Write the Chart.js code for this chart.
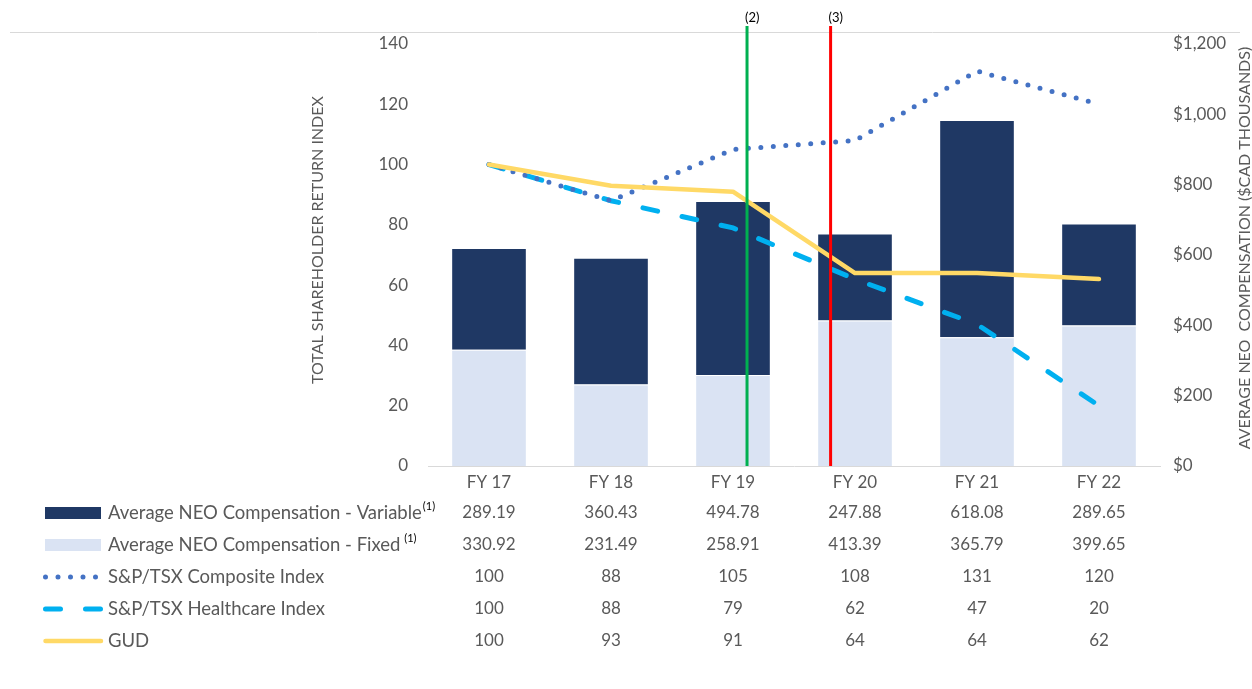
<!DOCTYPE html>
<html>
<head>
<meta charset="utf-8">
<script src="https://cdn.jsdelivr.net/npm/chart.js@4.4.1/dist/chart.umd.min.js"></script>
<style>
  html, body { margin: 0; padding: 0; background: #fff; }
  #wrap { width: 1252px; height: 689px; position: relative; }
</style>
</head>
<body>
<div id="wrap"><canvas id="tsrChart"></canvas></div>
<script>
const FONT = "Lato, 'Open Sans', sans-serif";
const GREY = '#595959';

// ---- data ----
const years = ['FY 17', 'FY 18', 'FY 19', 'FY 20', 'FY 21', 'FY 22'];
const compVariable = [289.19, 360.43, 494.78, 247.88, 618.08, 289.65];
const compFixed = [330.92, 231.49, 258.91, 413.39, 365.79, 399.65];
const tsxComposite = [100, 88, 105, 108, 131, 120];
const tsxHealthcare = [100, 88, 79, 62, 47, 20];
const gud = [100, 93, 91, 64, 64, 62];

const seriesNames = [
    'Average NEO Compensation - Variable',
    'Average NEO Compensation - Fixed',
    'S&P/TSX Composite Index',
    'S&P/TSX Healthcare Index',
    'GUD'
];
const seriesNotes = ['(1)', ' (1)', '', '', ''];

// left axis (index) and right axis ($CAD thousands)
const indexMin = 0, indexMax = 140, indexStep = 20;
const compMin = 0, compMax = 1200, compStep = 200;
const leftTitle = 'TOTAL SHAREHOLDER RETURN INDEX';
const rightTitle = 'AVERAGE NEO  COMPENSATION ($CAD THOUSANDS)';

// event markers, in category units (between FY 19 and FY 20)
const markerAt = [2.115, 2.8];
const markerText = ['(2)', '(3)'];
const markerColor = ['#00B050', '#FF0000'];

/* ---- top rule line ---- */
const frameLine = {
    id: 'frameLine',
    beforeDraw(chart) {
        const { ctx, chartArea } = chart;
        ctx.save();
        ctx.strokeStyle = '#D9D9D9';
        ctx.lineWidth = 1;
        ctx.beginPath();
        ctx.moveTo(10, chartArea.top - 11.5);
        ctx.lineTo(chart.width - 12, chartArea.top - 11.5);
        ctx.stroke();
        ctx.restore();
    }
};

/* ---- both axis titles read bottom-to-top ---- */
const axisTitles = {
    id: 'axisTitles',
    afterDraw(chart) {
        const { ctx, chartArea, scales: { y, y1 } } = chart;
        const mid = (chartArea.top + chartArea.bottom) / 2;
        ctx.save();
        ctx.fillStyle = GREY;
        ctx.font = '16px ' + FONT;
        ctx.textAlign = 'center';
        ctx.textBaseline = 'middle';
        [[y.left + 18, mid - 15, leftTitle], [y1.right - 7, mid - 7, rightTitle]].forEach(([tx, ty, txt]) => {
            ctx.save();
            ctx.translate(tx, ty);
            ctx.rotate(-Math.PI / 2);
            ctx.fillText(txt, 0, 0);
            ctx.restore();
        });
        ctx.restore();
    }
};

/* ---- vertical event markers ---- */
const eventMarkers = {
    id: 'eventMarkers',
    afterDatasetsDraw(chart) {
        const { ctx, chartArea, scales: { x } } = chart;
        const step = x.getPixelForValue(1) - x.getPixelForValue(0);
        ctx.save();
        markerAt.forEach((pos, i) => {
            const base = Math.floor(pos);
            const px = x.getPixelForValue(base) + (pos - base) * step;
            ctx.strokeStyle = markerColor[i];
            ctx.lineWidth = 3;
            ctx.beginPath();
            ctx.moveTo(px, chartArea.top - 18);
            ctx.lineTo(px, chartArea.bottom);
            ctx.stroke();
            ctx.fillStyle = '#000';
            ctx.font = '13px ' + FONT;
            ctx.textAlign = 'left';
            ctx.textBaseline = 'middle';
            ctx.fillText(markerText[i], px - 2, chartArea.top - 26);
        });
        ctx.restore();
    }
};

/* ---- data table under the x axis ---- */
function drawKey(ctx, ds, y) {
    ctx.save();
    if (ds.type === 'bar') {
        ctx.fillStyle = ds.backgroundColor;
        ctx.fillRect(45, y - 6, 56, 12);
    } else {
        ctx.strokeStyle = ds.borderColor;
        ctx.lineWidth = ds.borderWidth;
        ctx.lineCap = ds.borderCapStyle || 'round';
        ctx.setLineDash(ds.borderDash || []);
        ctx.beginPath();
        ctx.moveTo(45.5, y);
        ctx.lineTo(101, y);
        ctx.stroke();
    }
    ctx.restore();
}

const dataTable = {
    id: 'dataTable',
    afterDraw(chart) {
        const { ctx, chartArea, scales: { x } } = chart;
        ctx.save();
        chart.data.datasets.forEach((ds, i) => {
            const y = chartArea.bottom + 47 + i * 32;
            drawKey(ctx, ds, y);
            ctx.font = '18.5px ' + FONT;
            ctx.fillStyle = GREY;
            ctx.textBaseline = 'middle';
            ctx.textAlign = 'left';
            ctx.fillText(ds.label, 108, y);
            if (seriesNotes[i]) {
                const w = ctx.measureText(ds.label).width;
                ctx.font = '11px ' + FONT;
                ctx.fillStyle = '#000';
                ctx.fillText(seriesNotes[i], 108 + w + 1, y - 7);
            }
            ctx.font = '17px ' + FONT;
            ctx.fillStyle = GREY;
            ctx.textAlign = 'center';
            ds.data.forEach((v, j) => {
                const txt = ds.type === 'bar' ? v.toFixed(2) : String(v);
                ctx.fillText(txt, x.getPixelForValue(j), y);
            });
        });
        ctx.restore();
    }
};

new Chart(document.getElementById('tsrChart'), {
    data: {
        labels: years,
        datasets: [
            {
                type: 'bar',
                label: seriesNames[0],
                data: compVariable,
                yAxisID: 'y1',
                backgroundColor: '#1F3864',
                borderColor: 'rgba(255,255,255,0.7)',
                borderWidth: 1,
                order: 5,
            },
            {
                type: 'bar',
                label: seriesNames[1],
                data: compFixed,
                yAxisID: 'y1',
                backgroundColor: '#DAE3F3',
                borderColor: 'rgba(255,255,255,0.7)',
                borderWidth: 1,
                order: 4,
            },
            {
                type: 'line',
                label: seriesNames[2],
                data: tsxComposite,
                yAxisID: 'y',
                borderColor: '#4472C4',
                borderWidth: 5,
                borderDash: [0, 12.5],
                borderCapStyle: 'round',
                pointRadius: 0,
                tension: 0,
                order: 2,
            },
            {
                type: 'line',
                label: seriesNames[3],
                data: tsxHealthcare,
                yAxisID: 'y',
                borderColor: '#00B0F0',
                borderWidth: 5,
                borderDash: [15, 25],
                borderCapStyle: 'round',
                pointRadius: 0,
                tension: 0,
                order: 3,
            },
            {
                type: 'line',
                label: seriesNames[4],
                data: gud,
                yAxisID: 'y',
                borderColor: '#FFD966',
                borderWidth: 4.5,
                borderCapStyle: 'round',
                borderJoinStyle: 'round',
                pointRadius: 0,
                tension: 0,
                order: 1,
            },
        ]
    },
    options: {
        responsive: true,
        maintainAspectRatio: false,
        animation: false,
        layout: { padding: { left: 300, top: 44, right: 0, bottom: 0 } },
        plugins: {
            legend: { display: false },
            tooltip: { enabled: false },
        },
        datasets: {
            bar: { categoryPercentage: 1, barPercentage: 0.62 }
        },
        scales: {
            x: {
                stacked: true,
                grid: { display: true, drawOnChartArea: false, drawTicks: false, color: '#D9D9D9' },
                border: { display: true, color: '#D9D9D9', width: 1 },
                ticks: { color: GREY, font: { family: FONT, size: 17 }, padding: 6 },
                afterFit(scale) { scale.height = 223; },
            },
            y: {
                position: 'left',
                min: indexMin,
                max: indexMax,
                grid: { display: false, drawTicks: false },
                border: { display: false },
                ticks: { stepSize: indexStep, color: GREY, font: { family: FONT, size: 17 }, padding: 20 },
                afterFit(scale) { scale.width = 128; },
            },
            y1: {
                position: 'right',
                stacked: true,
                min: compMin,
                max: compMax,
                grid: { display: false, drawTicks: false },
                border: { display: false },
                ticks: {
                    stepSize: compStep,
                    color: GREY,
                    font: { family: FONT, size: 17 },
                    padding: 13,
                    callback: v => '$' + v.toLocaleString('en-US'),
                },
                afterFit(scale) { scale.width = 92; },
            }
        }
    },
    plugins: [frameLine, axisTitles, eventMarkers, dataTable]
});
</script>
</body>
</html>
